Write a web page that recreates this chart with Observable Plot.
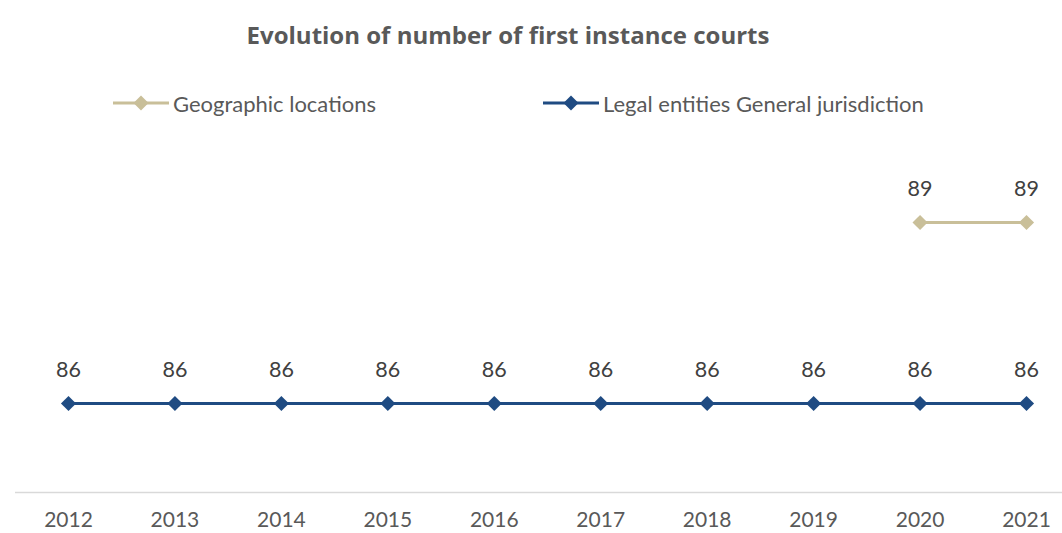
<!DOCTYPE html>
<html>
<head>
<meta charset="utf-8">
<script src="https://cdn.jsdelivr.net/npm/d3@7"></script>
<script src="https://cdn.jsdelivr.net/npm/@observablehq/plot@0.6"></script>
<style>
  html, body { margin: 0; padding: 0; background: #fff; }
  body { width: 1062px; height: 533px; overflow: hidden; font-family: Lato, "Open Sans", sans-serif; }
  #title { position: absolute; left: 0; width: 1016px; top: 18px; text-align: center; font-family: "Open Sans", sans-serif; font-weight: bold; font-size: 24px; color: #595959; }
  .leg { position: absolute; top: 88px; display: flex; align-items: center; font-size: 22px; color: #595959; }
  .leg svg { margin-right: 4px; }
  #chart { position: absolute; left: 0; top: 130px; }
</style>
</head>
<body>
<div id="title">Evolution of number of first instance courts</div>
<div id="legend"></div>
<div id="chart"></div>
<script>
const years = [2012, 2013, 2014, 2015, 2016, 2017, 2018, 2019, 2020, 2021];
const legalEntities = [86, 86, 86, 86, 86, 86, 86, 86, 86, 86];
const geoYears = [2020, 2021];
const geoLocations = [89, 89];

const seriesNames = ["Geographic locations", "Legal entities General jurisdiction"];
const colors = ["#C9BF99", "#1F4B82"];

const legalData = years.map((y, i) => ({year: y, value: legalEntities[i]}));
const geoData = geoYears.map((y, i) => ({year: y, value: geoLocations[i]}));

// Legend
const legendLeft = [113, 543];
const legend = document.getElementById("legend");
seriesNames.forEach((name, i) => {
  const div = document.createElement("div");
  div.className = "leg";
  div.style.left = legendLeft[i] + "px";
  div.innerHTML = `<svg width="56" height="30"><line x1="0" x2="56" y1="15" y2="15" stroke="${colors[i]}" stroke-width="3"/><path d="M28,7.5L35.5,15L28,22.5L20.5,15Z" fill="${colors[i]}"/></svg><span>${name}</span>`;
  legend.appendChild(div);
});

const pxPerYear = (1026 - 68) / 9;
const xDomain = [2012 - (68 - 15) / pxPerYear, 2021 + (1062 - 1026) / pxPerYear];
const pxPerUnit = (403 - 222) / 3;
const yDomain = [86 - (492 - 403) / pxPerUnit, 89 + (222 - 130) / pxPerUnit];

const chart = Plot.plot({
  width: 1062,
  height: 403,
  marginLeft: 15,
  marginRight: 0,
  marginTop: 0,
  marginBottom: 41,
  style: {fontFamily: "Lato, 'Open Sans', sans-serif", background: "#fff"},
  x: {domain: xDomain, label: null},
  y: {domain: yDomain, axis: null},
  marks: [
    Plot.ruleY([yDomain[0]], {stroke: "#D9D9D9", strokeWidth: 1.5}),
    Plot.axisX(years, {tickSize: 0, tickPadding: 20, tickFormat: d => String(d), fontSize: 21, fill: "#595959", label: null}),
    Plot.lineY(legalData, {x: "year", y: "value", stroke: colors[1], strokeWidth: 3}),
    Plot.dot(legalData, {x: "year", y: "value", symbol: "diamond2", r: 6.8, fill: colors[1], stroke: null}),
    Plot.text(legalData, {x: "year", y: "value", text: d => String(d.value), dy: -33, fontSize: 21.5, fill: "#404040"}),
    Plot.lineY(geoData, {x: "year", y: "value", stroke: colors[0], strokeWidth: 3}),
    Plot.dot(geoData, {x: "year", y: "value", symbol: "diamond2", r: 6.8, fill: colors[0], stroke: null}),
    Plot.text(geoData, {x: "year", y: "value", text: d => String(d.value), dy: -33, fontSize: 21.5, fill: "#404040"})
  ]
});
document.getElementById("chart").appendChild(chart);
</script>
</body>
</html>
